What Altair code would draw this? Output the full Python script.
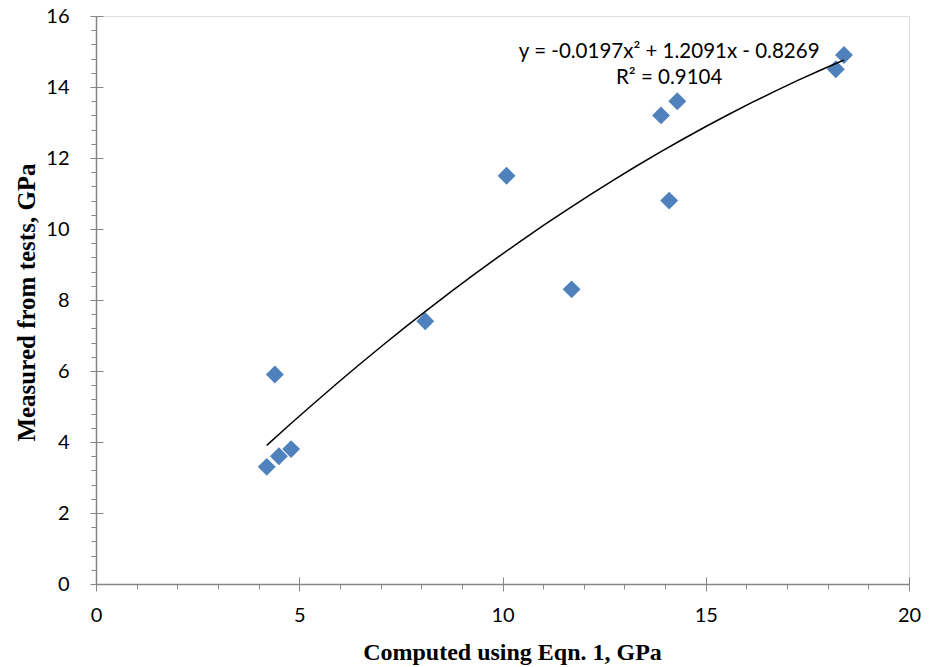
import altair as alt
import pandas as pd

# data
computed = [4.2, 4.5, 4.8, 4.4, 8.1, 10.1, 11.7, 13.9, 14.3, 14.1, 18.2, 18.4]
measured = [3.3, 3.6, 3.8, 5.9, 7.4, 11.5, 8.3, 13.2, 13.6, 10.8, 14.5, 14.9]

eq_text = ["y = -0.0197x² + 1.2091x - 0.8269", "R² = 0.9104"]
eq_x = [14.1, 14.1]
eq_y = [15.0, 14.24]

x_major = [0, 5, 10, 15, 20]
x_minor = list(range(0, 21))
y_major = [0, 2, 4, 6, 8, 10, 12, 14, 16]
y_minor = [round(i * 0.4, 1) for i in range(0, 41)]

df = pd.DataFrame({"x": computed, "y": measured})
ann = pd.DataFrame({"x": eq_x, "y": eq_y, "t": eq_text})

GRAY = "#868686"
LABEL_FONT = "Lato"
TITLE_FONT = "Liberation Serif"

xs = alt.Scale(domain=[0, 20], nice=False, zero=False)
ys = alt.Scale(domain=[0, 16], nice=False, zero=False)

points = alt.Chart(df).mark_point(
    shape="diamond", filled=True, color="#4F81BD", size=320, opacity=1
).encode(
    x=alt.X("x:Q", scale=xs, axis=alt.Axis(
        values=x_minor, grid=False, tickSize=5, tickColor=GRAY, tickWidth=1,
        domainColor=GRAY, domainWidth=1.5,
        labelExpr="datum.value % 5 == 0 ? format(datum.value, 'd') : ''",
        labelFont=LABEL_FONT, labelFontSize=20, labelColor="black", labelPadding=16,
        labelFlush=False, labelOverlap=False,
        title="Computed using Eqn. 1, GPa", titleFont=TITLE_FONT, titleFontSize=24,
        titleFontWeight="bold", titleColor="black", titleBaseline="alphabetic",
        titleX=416, titleY=75, titleAnchor="start", titleAlign="center",
        orient="bottom")),
    y=alt.Y("y:Q", scale=ys, axis=alt.Axis(
        values=y_minor, grid=False, tickSize=5, tickColor=GRAY, tickWidth=1,
        domainColor=GRAY, domainWidth=1.5,
        labelExpr="abs(datum.value/2 - round(datum.value/2)) < 0.001 ? format(datum.value, '.0f') : ''",
        labelFont=LABEL_FONT, labelFontSize=20, labelColor="black", labelPadding=22,
        labelFlush=False, labelOverlap=False,
        title="Measured from tests, GPa", titleFont=TITLE_FONT, titleFontSize=25,
        titleFontWeight="bold", titleColor="black", titleBaseline="alphabetic",
        titleAngle=270, titleX=-62, titleY=286, titleAlign="center",
        orient="left")),
)

trend = alt.Chart(df).transform_regression(
    "x", "y", method="poly", order=2
).mark_line(color="black", strokeWidth=1.5).encode(
    x=alt.X("x:Q", scale=xs, axis=alt.Axis(
        values=x_major, grid=False, domain=False, labels=False, title=None,
        tickSize=14, offset=-7, tickColor=GRAY, tickWidth=1, orient="bottom")),
    y=alt.Y("y:Q", scale=ys, axis=alt.Axis(
        values=y_major, grid=False, domain=False, labels=False, title=None,
        tickSize=13, offset=-7, tickColor=GRAY, tickWidth=1, orient="left")),
)

label = alt.Chart(ann).mark_text(
    font=LABEL_FONT, fontSize=20.5, color="black", align="center", baseline="middle"
).encode(
    x=alt.X("x:Q", scale=xs, axis=None),
    y=alt.Y("y:Q", scale=ys, axis=None),
    text="t:N",
)

chart = alt.layer(points, trend, label).resolve_axis(
    x="independent", y="independent"
).properties(
    width=813, height=568,
    autosize=alt.AutoSizeParams(type="none"),
    padding={"left": 96, "top": 16, "right": 24, "bottom": 83},
).configure_view(stroke=None).configure(background="white")

chart.save("out.html", embed_options={"renderer": "svg", "actions": False})
